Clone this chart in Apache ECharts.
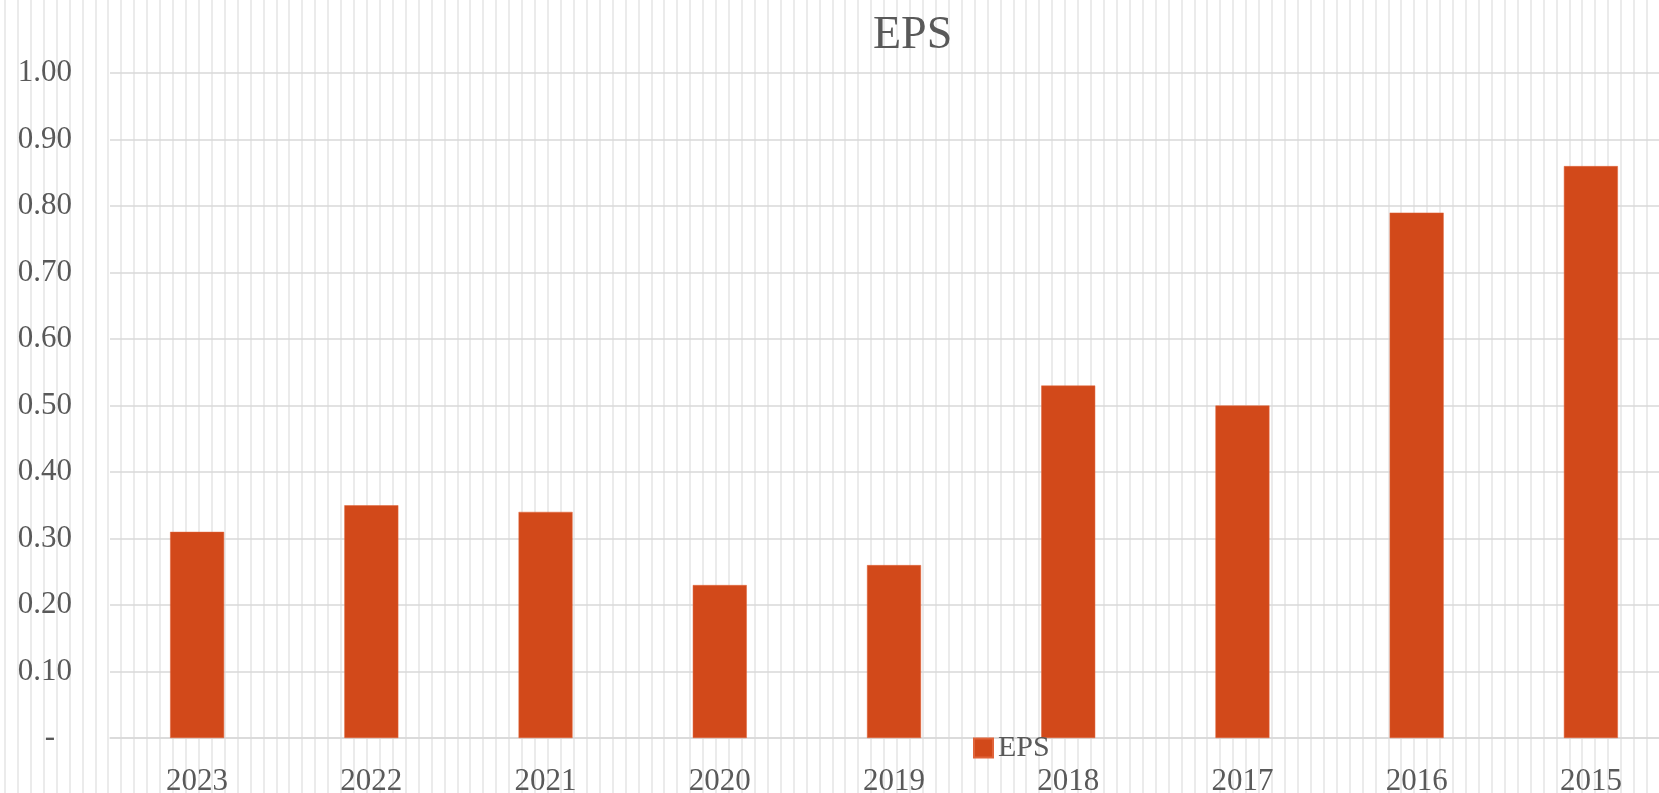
<!DOCTYPE html>
<html>
<head>
<meta charset="utf-8">
<script src="https://cdn.jsdelivr.net/npm/echarts@6/dist/echarts.min.js"></script>
<style>
  html, body {
    margin: 0;
    padding: 0;
    overflow: hidden;
    background-color: #fff;
    background-image: repeating-linear-gradient(90deg, #fff 0px, #fff 4px, #ebebeb 4px, #ebebeb 6px, #fff 6px, #fff 12.93px);
  }
  #eps_chart { width: 1680px; height: 793px; }
</style>
</head>
<body>
<div id="eps_chart"></div>
<script>
var years = ['2023', '2022', '2021', '2020', '2019', '2018', '2017', '2016', '2015']
var eps = [0.31, 0.35, 0.34, 0.23, 0.26, 0.53, 0.50, 0.79, 0.86]

var myChart = echarts.init(document.getElementById('eps_chart'), null, {renderer: 'canvas'})

var font = '"Liberation Serif", "Times New Roman", serif'

var option = {
  backgroundColor: 'transparent',
  animation: false,
  title: {
    text: 'EPS',
    left: 868,
    top: 8,
    textStyle: {fontFamily: font, fontSize: 46, fontWeight: 'normal', color: '#595959'}
  },
  legend: {
    data: ['EPS'],
    left: 968,
    top: 728,
    icon: 'rect',
    itemWidth: 19,
    itemHeight: 19,
    itemGap: 8,
    textStyle: {fontFamily: font, fontSize: 30, color: '#595959'}
  },
  grid: {left: 110, right: 2, top: 73, bottom: 55, containLabel: false, outerBoundsMode: 'none'},
  xAxis: {
    type: 'category',
    data: years,
    axisLine: {lineStyle: {color: '#d9d9d9', width: 1.5}},
    axisTick: {show: false},
    axisLabel: {fontFamily: font, fontSize: 31, color: '#595959', margin: 28}
  },
  yAxis: {
    type: 'value',
    min: 0,
    max: 1,
    interval: 0.1,
    axisLine: {show: false},
    axisTick: {show: false},
    splitLine: {lineStyle: {color: '#d9d9d9', width: 1.5}},
    axisLabel: {
      fontFamily: font,
      fontSize: 31,
      color: '#595959',
      margin: 38,
      formatter: function (v) {
        return v === 0 ? '{z|-}' : v.toFixed(2)
      },
      rich: {
        z: {fontFamily: font, fontSize: 31, color: '#595959', padding: [0, 17, 0, 0]}
      }
    }
  },
  series: [
    {
      name: 'EPS',
      type: 'bar',
      data: eps,
      barWidth: 54,
      itemStyle: {color: '#D2491A', borderColor: '#E0643A', borderWidth: 0.5}
    }
  ]
}

myChart.setOption(option)
</script>
</body>
</html>
